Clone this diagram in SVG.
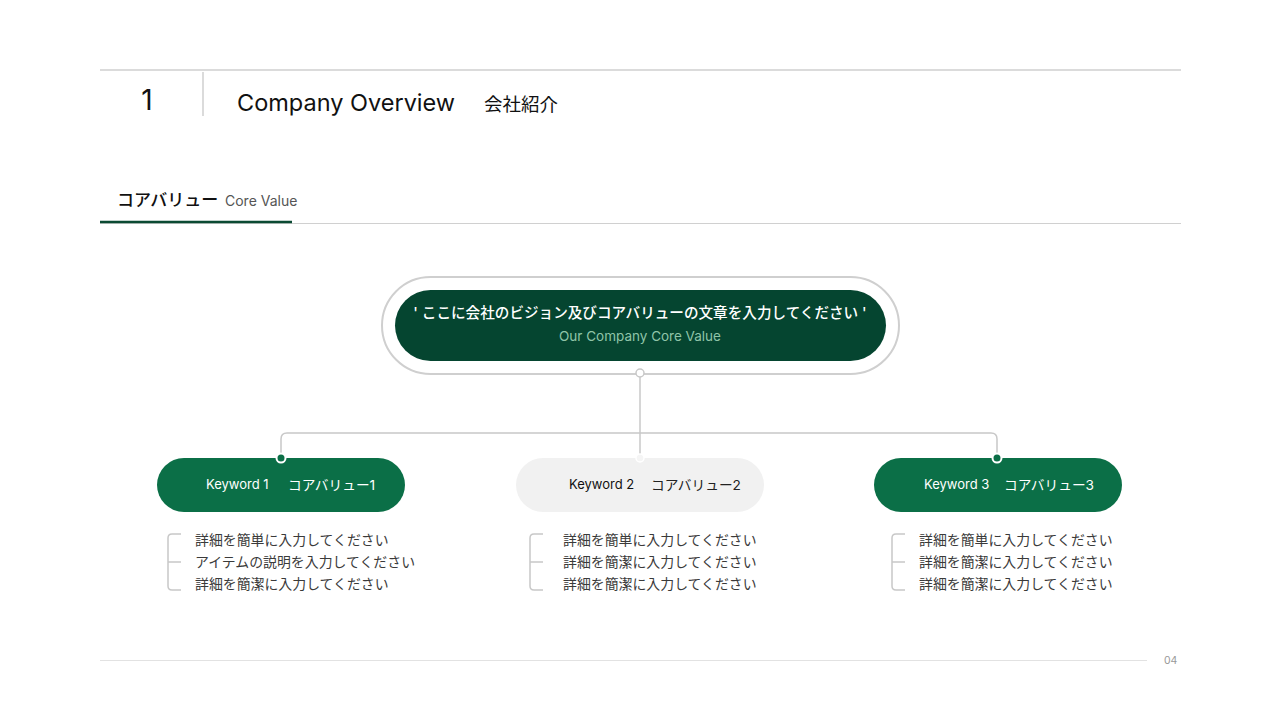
<svg xmlns="http://www.w3.org/2000/svg" width="1280" height="720" viewBox="0 0 1280 720">
<style>
.jp{font-family:Inter,"Noto Sans CJK JP",sans-serif}
.rule{stroke:#cfcfcf;stroke-width:1.5;fill:none}
.conn{stroke:#c8c8c8;stroke-width:1.5;fill:none}
.item{font-size:13.9px;fill:#3a3a3a}
.kw{font-size:13px}
.kwj{font-size:13.7px}
</style>
<rect width="1280" height="720" fill="#ffffff"/>
<g id="header">
<line x1="100" y1="70" x2="1181" y2="70" class="rule"/>
<line x1="203" y1="72" x2="203" y2="116" stroke="#cfcfcf" stroke-width="1.5"/>
<text x="147" y="110" class="jp" font-size="28" fill="#111" text-anchor="middle">1</text>
<text x="237" y="111" class="jp" font-size="23.5" fill="#111">Company Overview</text>
<text x="484" y="111" class="jp" font-size="18.5" fill="#111">会社紹介</text>
</g>
<g id="section">
<text x="117" y="206" class="jp" font-size="17" font-weight="500" fill="#111">コアバリュー</text>
<text x="225" y="206" class="jp" font-size="14" fill="#555">Core Value</text>
<line x1="100" y1="223.5" x2="1181" y2="223.5" stroke="#d0d0d0" stroke-width="1.2"/>
<line x1="100" y1="222" x2="292" y2="222" stroke="#0a4a33" stroke-width="2.5"/>
</g>
<g id="connectors">
<line x1="640" y1="377" x2="640" y2="455" class="conn"/>
<path d="M281 456 V439 Q281 433 287 433 H991 Q997 433 997 439 V456" class="conn"/>
</g>
<g id="core">
<rect x="382" y="277" width="517" height="97" rx="48.5" fill="#fff" stroke="#cfcfcf" stroke-width="2"/>
<rect x="395" y="290" width="491" height="71" rx="35.5" fill="#054530"/>
<text x="640" y="318" class="jp" font-size="14.6" font-weight="500" fill="#ffffff" text-anchor="middle">' ここに会社のビジョン及びコアバリューの文章を入力してください '</text>
<text x="640" y="341" class="jp" font-size="13.5" fill="#8fc4a8" text-anchor="middle">Our Company Core Value</text>
<circle cx="640" cy="373" r="4" fill="#fff" stroke="#c8c8c8" stroke-width="1.5"/>
</g>
<g id="kw1">
<rect x="157" y="458" width="248" height="54" rx="27" fill="#0b6f47"/>
<circle cx="281" cy="458" r="4.5" fill="#0b6f47" stroke="#fff" stroke-width="2"/>
<text x="206" y="489" class="jp kw" fill="#fff">Keyword 1</text>
<text x="288" y="490" class="jp kwj" fill="#fff">コアバリュー1</text>
</g>
<g id="kw2">
<rect x="516" y="458" width="248" height="54" rx="27" fill="#f1f1f1"/>
<circle cx="640" cy="458" r="4" fill="#f5f5f5" stroke="#fff" stroke-width="1.5"/>
<text x="569" y="489" class="jp kw" fill="#111">Keyword 2</text>
<text x="651" y="490" class="jp kwj" fill="#222">コアバリュー2</text>
</g>
<g id="kw3">
<rect x="874" y="458" width="248" height="54" rx="27" fill="#0b6f47"/>
<circle cx="997" cy="458" r="4.5" fill="#0b6f47" stroke="#fff" stroke-width="2"/>
<text x="924" y="489" class="jp kw" fill="#fff">Keyword 3</text>
<text x="1004" y="490" class="jp kwj" fill="#fff">コアバリュー3</text>
</g>
<g id="list1">
<path d="M181 534 H172 Q168 534 168 538 V586 Q168 590 172 590 H181 M168 562 H181" class="conn" stroke-width="1.2"/>
<text x="195" y="545" class="jp item">詳細を簡単に入力してください</text>
<text x="195" y="567" class="jp item">アイテムの説明を入力してください</text>
<text x="195" y="589" class="jp item">詳細を簡潔に入力してください</text>
</g>
<g id="list2">
<path d="M543 534 H534 Q530 534 530 538 V586 Q530 590 534 590 H543 M530 562 H543" class="conn" stroke-width="1.2"/>
<text x="563" y="545" class="jp item">詳細を簡単に入力してください</text>
<text x="563" y="567" class="jp item">詳細を簡潔に入力してください</text>
<text x="563" y="589" class="jp item">詳細を簡潔に入力してください</text>
</g>
<g id="list3">
<path d="M905 534 H896 Q892 534 892 538 V586 Q892 590 896 590 H905 M892 562 H905" class="conn" stroke-width="1.2"/>
<text x="919" y="545" class="jp item">詳細を簡単に入力してください</text>
<text x="919" y="567" class="jp item">詳細を簡潔に入力してください</text>
<text x="919" y="589" class="jp item">詳細を簡潔に入力してください</text>
</g>
<g id="footer">
<line x1="100" y1="660.5" x2="1147" y2="660.5" stroke="#e2e2e2" stroke-width="1"/>
<text x="1164" y="664" class="jp" font-size="10.5" fill="#999">04</text>
</g>
</svg>
